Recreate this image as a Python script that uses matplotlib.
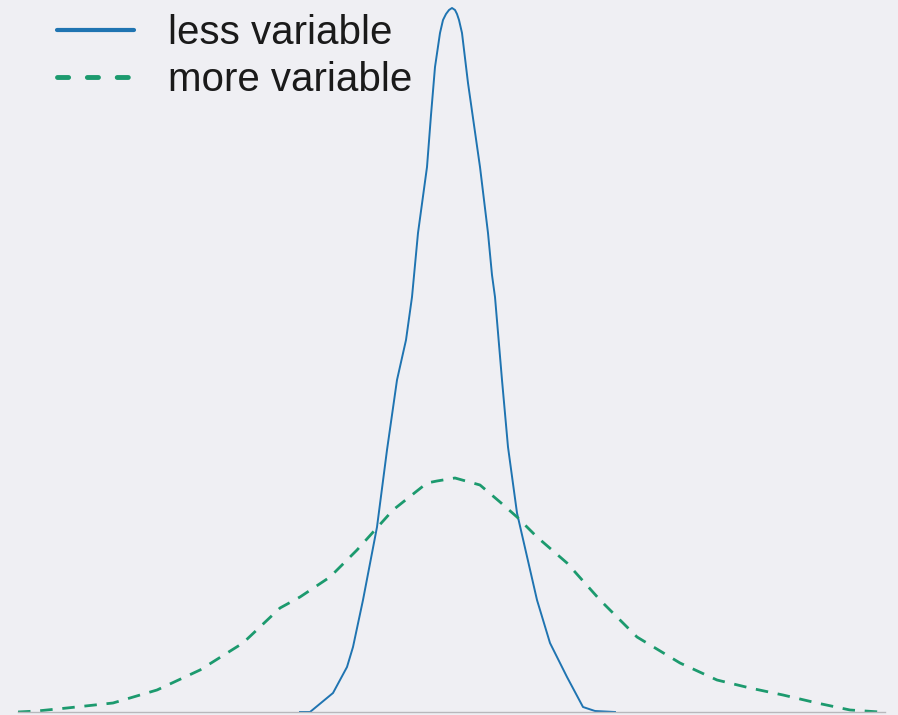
import matplotlib
matplotlib.use("Agg")
import matplotlib.pyplot as plt
from matplotlib.lines import Line2D

# ---- data ----
less_x = [-1.52, -1.42, -1.19, -1.05, -0.99, -0.89, -0.75, -0.65, -0.55, -0.46,
          -0.40, -0.34, -0.25, -0.21, -0.17, -0.12, -0.09, -0.06, -0.03, 0.00,
          0.03, 0.05, 0.07, 0.10, 0.16, 0.22, 0.28, 0.36, 0.40, 0.43,
          0.50, 0.56, 0.65, 0.85, 0.98, 1.15, 1.31, 1.43, 1.63]
less_y = [0.000, 0.000, 0.019, 0.045, 0.065, 0.112, 0.185, 0.262, 0.332, 0.372,
          0.415, 0.479, 0.545, 0.597, 0.645, 0.679, 0.692, 0.698, 0.702, 0.704,
          0.702, 0.698, 0.692, 0.679, 0.629, 0.587, 0.545, 0.479, 0.437, 0.415,
          0.332, 0.265, 0.199, 0.112, 0.069, 0.035, 0.005, 0.001, 0.000]

more_x = [-4.34, -4.15, -3.85, -3.39, -2.95, -2.52, -2.09, -1.72, -1.52, -1.22,
          -1.12, -0.95, -0.77, -0.59, -0.25, -0.15, 0.03, 0.28, 0.48, 0.65,
          0.85, 1.15, 1.48, 1.85, 2.28, 2.65, 2.98, 3.31, 3.65, 3.98, 4.28]
more_y = [0.000, 0.001, 0.004, 0.009, 0.022, 0.042, 0.069, 0.104, 0.115, 0.135,
          0.145, 0.162, 0.182, 0.202, 0.229, 0.231, 0.234, 0.227, 0.210, 0.195,
          0.175, 0.149, 0.112, 0.075, 0.049, 0.032, 0.024, 0.017, 0.009, 0.002,
          0.000]

labels = ["less variable", "more variable"]

BLUE = "#1f74b1"
GREEN = "#1c9a6e"
BG = "#efeff3"

plt.rcParams["lines.scale_dashes"] = False
fig = plt.figure(figsize=(8.98, 7.15), dpi=100, facecolor=BG)
ax = fig.add_axes([18 / 898, 3 / 715, (885 - 18) / 898, 712 / 715])
ax.set_facecolor(BG)

ax.plot(less_x, less_y, color=BLUE, lw=1.4, solid_joinstyle="round")
ax.plot(more_x, more_y, color=GREEN, lw=2.0, dashes=(9, 7))

ax.set_xlim(-4.34, 4.33)
ax.set_ylim(0, 0.712)
for s in ["left", "right", "top"]:
    ax.spines[s].set_visible(False)
ax.spines["bottom"].set_color("#b8b8bc")
ax.spines["bottom"].set_linewidth(1.0)
ax.set_xticks([])
ax.set_yticks([])

handles = [
    Line2D([], [], color=BLUE, lw=3.0, solid_capstyle="round"),
    Line2D([], [], color=GREEN, lw=3.5, dashes=(8, 13.5), dash_capstyle="round"),
]
leg = ax.legend(handles, labels, loc="upper left", frameon=False,
                bbox_to_anchor=(0.022, 1.008),
                prop={"family": "Liberation Sans", "size": 29},
                handlelength=1.9, handletextpad=0.85, labelspacing=0.22,
                borderpad=0.2, borderaxespad=0.3)
for t in leg.get_texts():
    t.set_color("#1a1a1a")

fig.savefig("out.png", dpi=100, facecolor=BG)
